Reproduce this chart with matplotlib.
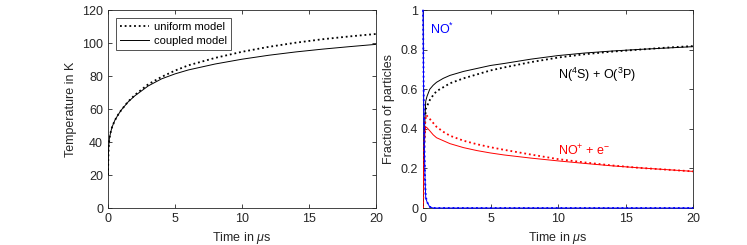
import numpy as np
import matplotlib.pyplot as plt

plt.rcParams['font.family'] = ['Liberation Sans', 'DejaVu Sans']
plt.rcParams['mathtext.fontset'] = 'custom'
plt.rcParams['mathtext.it'] = 'Liberation Sans:italic'
plt.rcParams['mathtext.rm'] = 'Liberation Sans'

# Temperature panel data (time in microseconds, temperature in K)
t_temp = [0, 0.02, 0.05, 0.1, 0.2, 0.3, 0.5, 0.75, 1, 1.5, 2, 3, 4, 5, 6,
          8, 10, 12, 14, 16, 18, 20]
T_uniform = [20, 30, 37, 42, 46, 49, 53, 56.5, 59.5, 64.5, 68.5, 75, 79.5,
             83.3, 86.5, 91, 94.7, 97.7, 100.2, 102.3, 104, 105.5]
T_coupled = [20, 30, 37, 42, 46, 49, 53, 56.5, 59.5, 64.3, 68, 74, 78.3,
             81.3, 83.7, 87.3, 90.2, 92.6, 94.6, 96.3, 97.8, 99.2]

# Fraction panel data
t_frac = [0, 0.02, 0.05, 0.1, 0.15, 0.2, 0.3, 0.5, 0.75, 1, 1.5, 2, 3, 4,
          5, 6, 8, 10, 12, 14, 16, 18, 20]
no_star_c = [1.0, 0.8, 0.55, 0.3, 0.15, 0.05, 0.03, 0.005, 0, 0, 0, 0, 0,
             0, 0, 0, 0, 0, 0, 0, 0, 0, 0]
no_star_u = [1.0, 0.82, 0.57, 0.31, 0.16, 0.06, 0.03, 0.006, 0, 0, 0, 0, 0,
             0, 0, 0, 0, 0, 0, 0, 0, 0, 0]
n_o_c = [0, 0.1, 0.24, 0.38, 0.46, 0.54, 0.565, 0.6, 0.62, 0.635, 0.655,
         0.67, 0.69, 0.705, 0.72, 0.73, 0.752, 0.77, 0.783, 0.793, 0.801,
         0.808, 0.815]
n_o_u = [0, 0.08, 0.2, 0.33, 0.42, 0.5, 0.515, 0.545, 0.57, 0.59, 0.61,
         0.63, 0.655, 0.675, 0.695, 0.71, 0.737, 0.76, 0.777, 0.79, 0.8,
         0.81, 0.818]
ion_c = [0, 0.1, 0.21, 0.32, 0.39, 0.41, 0.405, 0.39, 0.37, 0.355, 0.34,
         0.325, 0.305, 0.29, 0.278, 0.268, 0.252, 0.238, 0.225, 0.213,
         0.203, 0.194, 0.185]
ion_u = [0, 0.1, 0.23, 0.36, 0.42, 0.47, 0.465, 0.45, 0.43, 0.41, 0.385,
         0.365, 0.34, 0.322, 0.307, 0.294, 0.27, 0.247, 0.23, 0.215, 0.203,
         0.194, 0.185]

gray = '0.15'
dot = (0, (1, 1.6))
fig = plt.figure(figsize=(7.47, 2.45), dpi=100)
ax1 = fig.add_axes([0.1446, 0.151, 0.3588, 0.808])
ax2 = fig.add_axes([0.5663, 0.151, 0.3614, 0.808])

ax1.plot(t_temp, T_uniform, color='k', ls=dot, lw=1.3, label='uniform model')
ax1.plot(t_temp, T_coupled, color='k', ls='-', lw=0.7, label='coupled model')
ax1.set_xlim(0, 20)
ax1.set_ylim(0, 120)
ax1.set_xticks([0, 5, 10, 15, 20])
ax1.set_yticks(range(0, 121, 20))
ax1.set_xlabel(r'Time in $\mu$s', color=gray, fontsize=9)
ax1.set_ylabel('Temperature in K', color=gray, fontsize=9)
leg = ax1.legend(loc='upper left', fontsize=8, fancybox=False,
                 edgecolor=gray, handlelength=2.6, borderaxespad=0.7,
                 labelspacing=0.3, handletextpad=0.4)
leg.get_frame().set_linewidth(0.7)

ax2.plot(t_frac, n_o_u, color='k', ls=dot, lw=1.3)
ax2.plot(t_frac, n_o_c, color='k', ls='-', lw=0.7)
ax2.plot(t_frac, ion_u, color='r', ls=dot, lw=1.3)
ax2.plot(t_frac, ion_c, color='r', ls='-', lw=0.7)
ax2.plot(t_frac, no_star_c, color='b', ls='-', lw=0.7, clip_on=False)
ax2.plot(t_frac, no_star_u, color='b', ls=dot, lw=1.3, clip_on=False)
ax2.set_xlim(0, 20)
ax2.set_ylim(0, 1)
ax2.set_xticks([0, 5, 10, 15, 20])
ax2.set_yticks([0, 0.2, 0.4, 0.6, 0.8, 1])
ax2.set_yticklabels(['0', '0.2', '0.4', '0.6', '0.8', '1'])
ax2.set_xlabel(r'Time in $\mu$s', color=gray, fontsize=9)
ax2.set_ylabel('Fraction of particles', color=gray, fontsize=9)
ax2.text(0.5, 0.9, r'NO$^{*}$', color='b', fontsize=9, va='center')
ax2.text(10, 0.67, r'N($^4$S) + O($^3$P)', color='k', fontsize=9, va='center')
ax2.text(10, 0.29, r'NO$^{+}$ + e$^{-}$', color='r', fontsize=9, va='center')

for ax in (ax1, ax2):
    ax.tick_params(direction='in', top=True, right=True, length=3,
                   width=0.6, labelsize=9, colors=gray)
    for s in ax.spines.values():
        s.set_color(gray)
        s.set_linewidth(0.6)
        s.set_zorder(1)

fig.savefig('out.png', dpi=100)
